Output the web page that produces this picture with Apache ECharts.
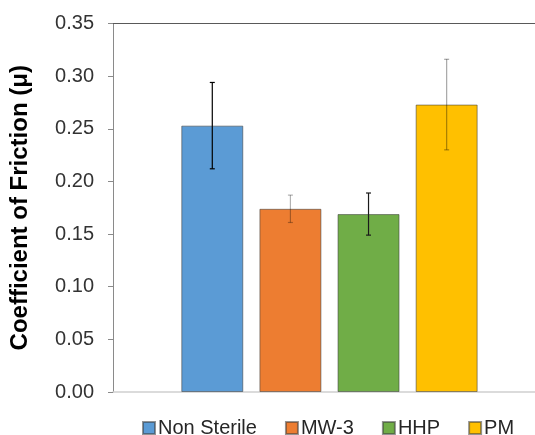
<!DOCTYPE html>
<html>
<head>
<meta charset="utf-8">
<script src="https://cdn.jsdelivr.net/npm/echarts@6/dist/echarts.min.js"></script>
<style>
  html, body { margin: 0; padding: 0; background: #fff; }
  #chart { width: 535px; height: 435px; }
</style>
</head>
<body>
<div id="chart"></div>
<script>
// Treatment groups, mean friction coefficient and standard deviation
const groups = ['Non Sterile', 'MW-3', 'HHP', 'PM'];
const means = [0.253, 0.174, 0.169, 0.273];
const errors = [0.041, 0.013, 0.020, 0.043];
const colors = ['#5B9BD5', '#ED7D31', '#70AD47', '#FFC000'];
const errorColors = ['#000000', 'rgba(0,0,0,0.3)', '#1a1a1a', 'rgba(0,0,0,0.35)'];
const yTicks = [0, 0.05, 0.10, 0.15, 0.20, 0.25, 0.30, 0.35];

const FONT = '"Liberation Sans", Arial, sans-serif';
const BAR_WIDTH = 62;
// horizontal extent of the plot, in slot units (slot i holds group i)
const X_MIN = -1.271;
const X_MAX = 4.131;

const chart = echarts.init(document.getElementById('chart'), null, { renderer: 'canvas' });

const barSeries = groups.map((g, i) => ({
  name: g,
  type: 'bar',
  data: [[i, means[i]]],
  barWidth: BAR_WIDTH,
  barGap: '-100%',
  itemStyle: { color: colors[i], borderColor: 'rgba(60,60,60,0.55)', borderWidth: 1 },
  emphasis: { disabled: true },
  z: 2
}));

// Error bars: mean ± standard deviation, with short caps
const errorSeries = groups.map((g, i) => ({
  type: 'custom',
  data: [[i, means[i] - errors[i], means[i] + errors[i]]],
  z: 5,
  silent: true,
  renderItem: function (params, api) {
    const lo = api.coord([api.value(0), api.value(1)]);
    const hi = api.coord([api.value(0), api.value(2)]);
    const x = lo[0];
    const cap = 2.5;
    const style = { stroke: errorColors[i], lineWidth: 1.2 };
    return {
      type: 'group',
      children: [
        { type: 'line', shape: { x1: x, y1: hi[1], x2: x, y2: lo[1] }, style },
        { type: 'line', shape: { x1: x - cap, y1: hi[1], x2: x + cap, y2: hi[1] }, style },
        { type: 'line', shape: { x1: x - cap, y1: lo[1], x2: x + cap, y2: lo[1] }, style }
      ]
    };
  }
}));

chart.setOption({
  animation: false,
  backgroundColor: '#ffffff',
  grid: { left: 112, right: 0, top: 23.5, bottom: 43 },
  legend: {
    data: groups,
    left: 137,
    top: 413,
    icon: 'rect',
    itemWidth: 12,
    itemHeight: 12,
    itemGap: 28,
    textStyle: { fontFamily: FONT, fontSize: 20, color: '#262626', padding: [0, 0, 0, -2] }
  },
  xAxis: [
    {
      type: 'value',
      min: X_MIN,
      max: X_MAX,
      axisLine: { show: true, onZero: false, lineStyle: { color: '#d0d0d0', width: 1.5 } },
      axisTick: { show: false },
      axisLabel: { show: false },
      splitLine: { show: false }
    },
    {
      type: 'value',
      position: 'top',
      min: X_MIN,
      max: X_MAX,
      axisLine: { show: true, onZero: false, lineStyle: { color: '#595959', width: 1 } },
      axisTick: { show: false },
      axisLabel: { show: false },
      splitLine: { show: false }
    }
  ],
  yAxis: {
    type: 'value',
    min: yTicks[0],
    max: yTicks[yTicks.length - 1],
    interval: 0.05,
    name: 'Coefficient of Friction (μ)',
    nameLocation: 'middle',
    nameGap: 81,
    nameTextStyle: { fontFamily: FONT, fontSize: 24, fontWeight: 'bold', color: '#000000' },
    axisLine: { show: true, onZero: false, lineStyle: { color: '#8a8a8a', width: 1 } },
    axisTick: { show: true, length: 5, lineStyle: { color: '#8a8a8a' } },
    splitLine: { show: false },
    axisLabel: {
      margin: 19,
      fontFamily: FONT,
      fontSize: 20,
      color: '#333333',
      formatter: v => v.toFixed(2)
    }
  },
  series: barSeries.concat(errorSeries)
});
</script>
</body>
</html>
